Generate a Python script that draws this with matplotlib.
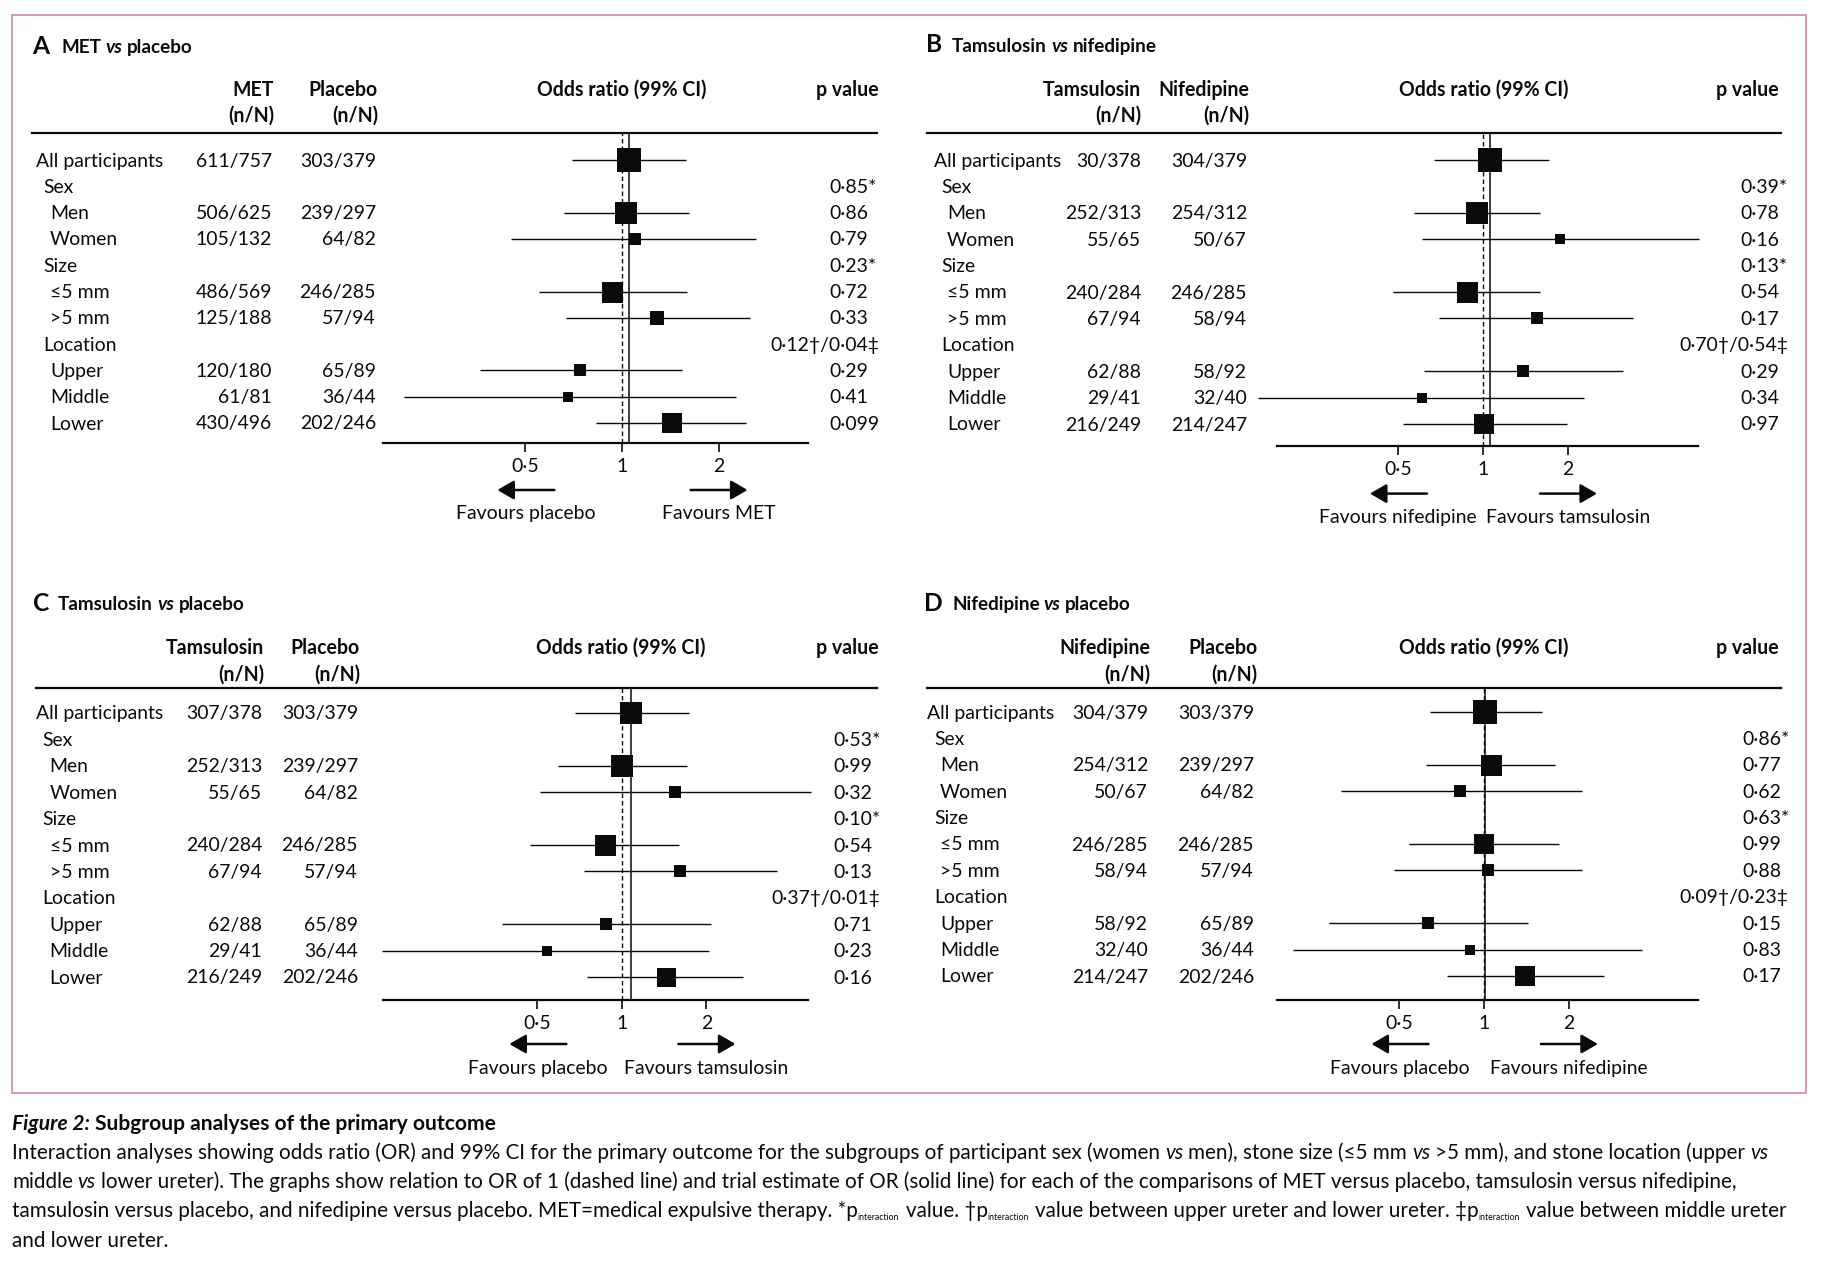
import numpy as np
import matplotlib
matplotlib.use('Agg')
import matplotlib.pyplot as plt
from matplotlib.patches import FancyArrowPatch, Rectangle
from matplotlib.lines import Line2D
from matplotlib.ticker import NullLocator

# ---------------- data ----------------
nan = np.nan
groups = ['All participants', 'Sex', 'Men', 'Women', 'Size', '≤5 mm', '>5 mm',
          'Location', 'Upper', 'Middle', 'Lower']
levels = [0, 1, 2, 2, 1, 2, 2, 1, 2, 2, 2]
ticks = [0.5, 1, 2]
tick_labels = ['0·5', '1', '2']

A_title = ['MET', 'vs', 'placebo']
A_heads = ['MET', 'Placebo']
A_treat = ['611/757', '', '506/625', '105/132', '', '486/569', '125/188', '', '120/180', '61/81', '430/496']
A_ctrl = ['303/379', '', '239/297', '64/82', '', '246/285', '57/94', '', '65/89', '36/44', '202/246']
A_or = [1.05, nan, 1.03, 1.10, nan, 0.93, 1.29, nan, 0.74, 0.68, 1.43]
A_lo = [0.70, nan, 0.66, 0.45, nan, 0.55, 0.67, nan, 0.36, 0.21, 0.83]
A_hi = [1.58, nan, 1.62, 2.62, nan, 1.59, 2.51, nan, 1.54, 2.26, 2.44]
A_p = ['', '0·85*', '0·86', '0·79', '0·23*', '0·72', '0·33', '0·12†/0·04‡', '0·29', '0·41', '0·099']
A_fav = ['Favours placebo', 'Favours MET']

B_title = ['Tamsulosin', 'vs', 'nifedipine']
B_heads = ['Tamsulosin', 'Nifedipine']
B_treat = ['30/378', '', '252/313', '55/65', '', '240/284', '67/94', '', '62/88', '29/41', '216/249']
B_ctrl = ['304/379', '', '254/312', '50/67', '', '246/285', '58/94', '', '58/92', '32/40', '214/247']
B_or = [1.06, nan, 0.95, 1.87, nan, 0.88, 1.55, nan, 1.39, 0.61, 1.01]
B_lo = [0.67, nan, 0.57, 0.61, nan, 0.48, 0.70, nan, 0.62, 0.16, 0.52]
B_hi = [1.71, nan, 1.59, 5.80, nan, 1.59, 3.39, nan, 3.14, 2.28, 1.99]
B_p = ['', '0·39*', '0·78', '0·16', '0·13*', '0·54', '0·17', '0·70†/0·54‡', '0·29', '0·34', '0·97']
B_fav = ['Favours nifedipine', 'Favours tamsulosin']

C_title = ['Tamsulosin', 'vs', 'placebo']
C_heads = ['Tamsulosin', 'Placebo']
C_treat = ['307/378', '', '252/313', '55/65', '', '240/284', '67/94', '', '62/88', '29/41', '216/249']
C_ctrl = ['303/379', '', '239/297', '64/82', '', '246/285', '57/94', '', '65/89', '36/44', '202/246']
C_or = [1.08, nan, 1.00, 1.55, nan, 0.87, 1.61, nan, 0.88, 0.54, 1.43]
C_lo = [0.68, nan, 0.59, 0.51, nan, 0.47, 0.73, nan, 0.375, 0.14, 0.75]
C_hi = [1.74, nan, 1.70, 4.73, nan, 1.60, 3.57, nan, 2.08, 2.05, 2.70]
C_p = ['', '0·53*', '0·99', '0·32', '0·10*', '0·54', '0·13', '0·37†/0·01‡', '0·71', '0·23', '0·16']
C_fav = ['Favours placebo', 'Favours tamsulosin']

D_title = ['Nifedipine', 'vs', 'placebo']
D_heads = ['Nifedipine', 'Placebo']
D_treat = ['304/379', '', '254/312', '50/67', '', '246/285', '58/94', '', '58/92', '32/40', '214/247']
D_ctrl = ['303/379', '', '239/297', '64/82', '', '246/285', '57/94', '', '65/89', '36/44', '202/246']
D_or = [1.01, nan, 1.06, 0.82, nan, 1.00, 1.03, nan, 0.63, 0.89, 1.40]
D_lo = [0.64, nan, 0.62, 0.31, nan, 0.54, 0.48, nan, 0.28, 0.21, 0.74]
D_hi = [1.61, nan, 1.79, 2.22, nan, 1.85, 2.23, nan, 1.43, 3.65, 2.66]
D_p = ['', '0·86*', '0·77', '0·62', '0·63*', '0·99', '0·88', '0·09†/0·23‡', '0·15', '0·83', '0·17']
D_fav = ['Favours placebo', 'Favours nifedipine']

# study weights -> box side (px), style only
A_box = [24, 0, 22, 11.7, 0, 21, 14, 0, 12.8, 10.5, 20]
B_box = [23.5, 0, 22, 10.5, 0, 21, 12.8, 0, 12.8, 10.5, 20]
C_box = [22, 0, 21.5, 11.7, 0, 21, 12.8, 0, 12.8, 9.3, 19]
D_box = [23.3, 0, 21, 11.7, 0, 20.4, 12.8, 0, 12.8, 9.3, 20]

caption_lines = [
    [("Figure 2:", 'bi', False), ("Subgroup analyses of the primary outcome", 'b', True)],
    [("Interaction analyses showing odds ratio (OR) and 99% CI for the primary outcome for the subgroups of participant sex (women", 'n', False),
     ("vs", 'i', True), ("men), stone size (≤5 mm", 'n', True), ("vs", 'i', True),
     (">5 mm), and stone location (upper", 'n', True), ("vs", 'i', True)],
    [("middle", 'n', False), ("vs", 'i', True),
     ("lower ureter). The graphs show relation to OR of 1 (dashed line) and trial estimate of OR (solid line) for each of the comparisons of MET versus placebo, tamsulosin versus nifedipine,", 'n', True)],
    [("tamsulosin versus placebo, and nifedipine versus placebo. MET=medical expulsive therapy. *p", 'n', False),
     ("interaction", 'sub', False), ("value. †p", 'n', True), ("interaction", 'sub', False),
     ("value between upper ureter and lower ureter. ‡p", 'n', True), ("interaction", 'sub', False),
     ("value between middle ureter", 'n', True)],
    [("and lower ureter.", 'n', False)],
]

# ---------------- setup ----------------
W, H = 1828, 1264
DPI = 100
FAM = ['Lato', 'DejaVu Sans']
plt.rcParams['font.family'] = FAM
INK = '#0a0a0a'

fig = plt.figure(figsize=(W / DPI, H / DPI), dpi=DPI)
fig.patch.set_facecolor('white')
R = fig.canvas.get_renderer()


def fx(x):
    return x / W


def fy(y):
    return 1 - y / H


def text_w(s, size, weight='normal', style='normal'):
    t = fig.text(0, 0, s, fontsize=size, fontweight=weight, fontstyle=style)
    w = t.get_window_extent(R).width
    t.remove()
    return w


def fit(s, target, weight='normal', style='normal'):
    return 20 * target / text_w(s, 20, weight, style)


STY = {'n': ('normal', 'normal'), 'i': ('normal', 'italic'),
       'b': ('bold', 'normal'), 'bi': ('bold', 'italic')}


def draw_runs(x, y, parts, size):
    for txt, st, sp in parts:
        if st == 'sub':
            s, wgt, sty, dy = size * 0.42, 'normal', 'normal', 3.5
        else:
            s, (wgt, sty), dy = size, STY[st], 0
        if sp:
            x += text_w('x x', size, wgt, sty) - text_w('xx', size, wgt, sty)
        t = fig.text(fx(x), fy(y + dy), txt, fontsize=s, fontweight=wgt,
                     fontstyle=sty, color=INK, ha='left', va='baseline')
        x += t.get_window_extent(R).width + (1 if st == 'sub' else 0)
    return x


def ftext(x, y, s, size, ha='left', weight='normal'):
    return fig.text(fx(x), fy(y), s, fontsize=size, ha=ha, va='baseline',
                    fontweight=weight, color=INK)


def hline(x0, x1, y, lw=1.5):
    fig.add_artist(Line2D([fx(x0), fx(x1)], [fy(y), fy(y)],
                          transform=fig.transFigure, lw=lw, color=INK))


BASE = fit('All participants', 127)
HEAD = fit('Odds ratio (99% CI)', 170, weight='bold')
TITLE = fit('MET vs placebo', 133, weight='bold')
CAP = fit("Interaction analyses showing odds ratio (OR) and 99% CI for the primary outcome for the subgroups of participant sex (women vs men), stone size (≤5 mm vs >5 mm), and stone location (upper vs", 1756)
CAPT = fit("Figure 2: Subgroup analyses of the primary outcome", 488, weight='bold')


def panel(letter, title, heads, treat, ctrl, orr, lo, hi, pv, fav, box, L):
    # title
    ftext(L['letter_x'], L['title_base'] + 0.5, letter, TITLE * 1.3, weight='bold')
    draw_runs(L['title_x'], L['title_base'],
              [(title[0], 'b', False), (title[1], 'bi', True), (title[2], 'b', True)], TITLE)
    hb0, hb1 = L['head_base']
    ftext(L['col_right'][0], hb0, heads[0], HEAD, ha='right', weight='bold')
    ftext(L['col_right'][1], hb0, heads[1], HEAD, ha='right', weight='bold')
    ftext(L['col_right'][0], hb1, '(n/N)', HEAD, ha='right', weight='bold')
    ftext(L['col_right'][1], hb1, '(n/N)', HEAD, ha='right', weight='bold')
    ftext(L['odds_cx'], hb0, 'Odds ratio (99% CI)', HEAD, ha='center', weight='bold')
    ftext(L['p_head_right'], hb0, 'p value', HEAD, ha='right', weight='bold')
    hl = L['head_line']
    hline(hl[0], hl[1], hl[2], lw=1.6)

    r0, dr = L['rows']
    for i, g in enumerate(groups):
        yb = r0 + i * dr + 6.5
        ftext(L['lab_x'][levels[i]], yb, g, BASE)
        if treat[i]:
            ftext(L['val_right'][0], yb, treat[i], BASE, ha='right')
            ftext(L['val_right'][1], yb, ctrl[i], BASE, ha='right')
        if pv[i]:
            if '/' in pv[i]:
                ftext(L['p_right'], yb, pv[i], BASE, ha='right')
            else:
                ftext(L['p_left'], yb, pv[i], BASE, ha='left')

    x0, x1, ytop, ybot = L['ax']
    ax = fig.add_axes([fx(x0), fy(ybot), (x1 - x0) / W, (ybot - ytop) / H])
    ax.patch.set_visible(False)
    ax.set_xscale('log', base=2)
    ax.set_xlim(*L['xlim'])
    ax.set_ylim((ybot - r0) / dr, (ytop - r0) / dr)
    for s in ['top', 'left', 'right']:
        ax.spines[s].set_visible(False)
    ax.spines['bottom'].set_linewidth(1.6)
    ax.spines['bottom'].set_color(INK)
    ax.set_yticks([])
    ax.set_xticks(ticks)
    ax.set_xticklabels(tick_labels)
    ax.xaxis.set_minor_locator(NullLocator())
    ax.tick_params(axis='x', length=6.5, width=1.2, direction='out', pad=4.5,
                   labelsize=BASE, colors=INK)

    ax.axvline(1, ls=(0, (3.2, 2.2)), lw=1.0, color=INK, zorder=1)
    ax.axvline(orr[0], lw=1.1, color=INK, zorder=1)
    for i in range(len(groups)):
        if np.isnan(orr[i]):
            continue
        ax.plot([lo[i], hi[i]], [i, i], color=INK, lw=1.0, clip_on=False, zorder=2,
                solid_capstyle='butt')
        ax.plot([orr[i]], [i], marker='s', ms=box[i] * 0.72, color=INK, mew=0,
                clip_on=False, zorder=3)

    # arrows and favours labels
    t05 = ax.transData.transform((ticks[0], 0))[0]
    t2 = ax.transData.transform((ticks[2], 0))[0]
    ay = L['arrow_y']
    for a, b in [(t05 + 29, t05 - 28), (t2 - 28, t2 + 29)]:
        fig.add_artist(FancyArrowPatch((fx(a), fy(ay)), (fx(b), fy(ay)),
                                       transform=fig.transFigure,
                                       arrowstyle='-|>,head_length=10,head_width=5.8',
                                       mutation_scale=1, lw=1.8, color=INK,
                                       shrinkA=0, shrinkB=0))
    ftext(t05, L['fav_base'], fav[0], BASE, ha='center')
    ftext(t2, L['fav_base'], fav[1], BASE, ha='center')


LA = dict(letter_x=32, title_x=61, title_base=53, head_base=(96, 122),
          head_line=(32, 877, 133), col_right=(274, 378), val_right=(272, 376),
          lab_x=(36, 43, 50), odds_cx=622, p_head_right=879, p_left=829, p_right=879,
          ax=(383, 808, 133, 443), xlim=(0.180, 3.80), rows=(160, 26.3),
          arrow_y=490, fav_base=519)
LB = dict(letter_x=926, title_x=952, title_base=52, head_base=(96, 122),
          head_line=(927, 1781, 133), col_right=(1141, 1249), val_right=(1141, 1247),
          lab_x=(934, 941, 947), odds_cx=1483.5, p_head_right=1779, p_left=1740.6, p_right=1788,
          ax=(1276.6, 1698, 133, 446), xlim=(0.186, 5.77), rows=(160, 26.4),
          arrow_y=493.6, fav_base=523)
LC = dict(letter_x=33, title_x=58, title_base=610, head_base=(654, 681),
          head_line=(36, 877, 687.5), col_right=(264, 360), val_right=(262, 358),
          lab_x=(36, 42.5, 49.5), odds_cx=621, p_head_right=879, p_left=833.6, p_right=880,
          ax=(383, 808, 687.5, 1000), xlim=(0.141, 4.6), rows=(713, 26.4),
          arrow_y=1044, fav_base=1074)
LD = dict(letter_x=924.5, title_x=952, title_base=610, head_base=(654, 681),
          head_line=(927, 1781, 687.5), col_right=(1150, 1257), val_right=(1148, 1254),
          lab_x=(927, 934.4, 940), odds_cx=1484, p_head_right=1779, p_left=1742, p_right=1788,
          ax=(1276.6, 1698, 687.5, 1000), xlim=(0.183, 5.75), rows=(712, 26.4),
          arrow_y=1044, fav_base=1074)

panel('A', A_title, A_heads, A_treat, A_ctrl, A_or, A_lo, A_hi, A_p, A_fav, A_box, LA)
panel('B', B_title, B_heads, B_treat, B_ctrl, B_or, B_lo, B_hi, B_p, B_fav, B_box, LB)
panel('C', C_title, C_heads, C_treat, C_ctrl, C_or, C_lo, C_hi, C_p, C_fav, C_box, LC)
panel('D', D_title, D_heads, D_treat, D_ctrl, D_or, D_lo, D_hi, D_p, D_fav, D_box, LD)

# frame
fig.add_artist(Rectangle((fx(12), fy(1093)), (1806 - 12) / W, (1093 - 15) / H,
                         transform=fig.transFigure, fill=False,
                         edgecolor='#d4869a', lw=1.2))

# caption
cap_base = [1130, 1159, 1188, 1217, 1247]
for k, parts in enumerate(caption_lines):
    draw_runs(12, cap_base[k], parts, CAPT if k == 0 else CAP)

fig.savefig('out.png', dpi=DPI, facecolor='white')
